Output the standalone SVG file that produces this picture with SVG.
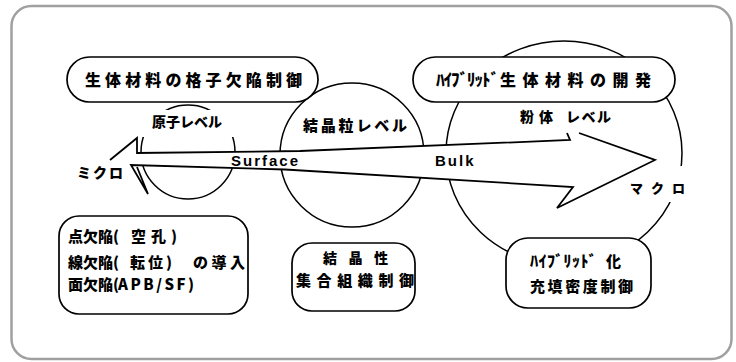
<svg xmlns="http://www.w3.org/2000/svg" width="736" height="362" viewBox="0 0 736 362">
<style>
.frame{fill:#fff;stroke:#a0a0a0;stroke-width:2.5}
.box{fill:#fff;stroke:#000;stroke-width:1.7}
.circ{fill:none;stroke:#000;stroke-width:1.5}
.bg{fill:#fff;stroke:none}
.arrfill{fill:#fff;stroke:none}
.arr{fill:none;stroke:#000;stroke-width:1.8;stroke-linejoin:miter}
.jp{font-family:"Noto Sans CJK JP","Noto Sans",sans-serif;font-weight:900;fill:#000}
.en{font-family:"Liberation Sans",Arial,sans-serif;font-weight:700;fill:#000}
</style>
<rect class="frame" x="11.5" y="6" width="720" height="353" rx="20"/>

<g id="levels">
  <g id="atom-level">
    <circle class="circ" cx="188" cy="152" r="47"/>
  </g>
  <g id="grain-level">
    <circle class="circ" cx="352" cy="155" r="72"/>
  </g>
  <g id="powder-level">
    <ellipse class="circ" cx="564" cy="153" rx="118" ry="112"/>
  </g>
</g>

<g id="label-backgrounds">
  <rect class="bg" x="136" y="110" width="104" height="27"/>
  <rect class="bg" x="510" y="105" width="110" height="27"/>
  <rect class="bg" x="625" y="166" width="65" height="36"/>
</g>

<g id="connectors">
  <path class="arrfill" d="M110,160 L137,138 L137,153 L300,151 L570,140 L565,127 L655,160 L557,208 L573,187 L285,169.5 L131,165 L148,194 L137,167 Z"/>
  <path class="arr" d="M110,160 L137,138 L137,153 L300,151 L570,140 L567,133"/>
  <path class="arr" d="M579,133 L655,160 L557,208 L573,187 L285,169.5 L131,165 L148,194 L137,167"/>
  <text class="en" x="231" y="166" font-size="15" letter-spacing="2">Surface</text>
  <text class="en" x="435" y="166" font-size="15" letter-spacing="2">Bulk</text>
</g>

<g id="lattice-defect">
  <rect class="box" x="67" y="57" width="251" height="45" rx="22.5"/>
  <text class="jp" x="85" y="86" font-size="16" letter-spacing="4.1">生体材料の格子欠陥制御</text>
</g>

<g id="hybrid-dev">
  <rect class="box" x="413" y="57" width="262" height="45" rx="22.5"/>
  <text class="jp" y="86" font-size="16"><tspan x="436" font-size="17" letter-spacing="-1">ﾊｲﾌﾞﾘｯﾄﾞ</tspan><tspan x="500" letter-spacing="6.5">生体材料の開発</tspan></text>
</g>

<g id="point-defects">
  <rect class="box" x="59" y="216" width="189" height="98" rx="20"/>
  <text class="jp" y="242" font-size="15"><tspan x="68">点欠陥( </tspan><tspan x="131" letter-spacing="5">空孔)</tspan></text>
  <text class="jp" y="268" font-size="15"><tspan x="68">線欠陥( </tspan><tspan x="130" letter-spacing="3">転位) </tspan><tspan x="193" letter-spacing="3.5">の導入</tspan></text>
  <text class="jp" y="290" font-size="15"><tspan x="68">面欠陥(</tspan><tspan x="118" letter-spacing="2.5">APB/SF)</tspan></text>
</g>

<g id="crystallinity">
  <rect class="box" x="292" y="243" width="123" height="68" rx="20"/>
  <text class="jp" x="323" y="263" font-size="14" letter-spacing="11.5">結晶性</text>
  <text class="jp" x="296" y="286" font-size="15" letter-spacing="5.6">集合組織制御</text>
</g>

<g id="hybrid-packing">
  <rect class="box" x="506" y="238" width="145" height="70" rx="22"/>
  <text class="jp" y="267" font-size="15"><tspan x="530" font-size="16" letter-spacing="0.5">ﾊｲﾌﾞﾘｯﾄﾞ</tspan><tspan x="606">化</tspan></text>
  <text class="jp" x="530" y="292" font-size="15" letter-spacing="2.6">充填密度制御</text>
</g>

<g id="labels">
  <text class="jp" x="152" y="127" font-size="14">原子レベル</text>
  <text class="jp" x="303" y="131" font-size="15" letter-spacing="2.8">結晶粒レベル</text>
  <text class="jp" y="122" font-size="14"><tspan x="520" letter-spacing="5">粉体</tspan><tspan x="566" letter-spacing="1.5">レベル</tspan></text>
  <text class="jp" x="630" y="193" font-size="13" letter-spacing="8">マクロ</text>
  <text class="jp" x="77" y="178" font-size="14" letter-spacing="2">ミクロ</text>
</g>
</svg>
